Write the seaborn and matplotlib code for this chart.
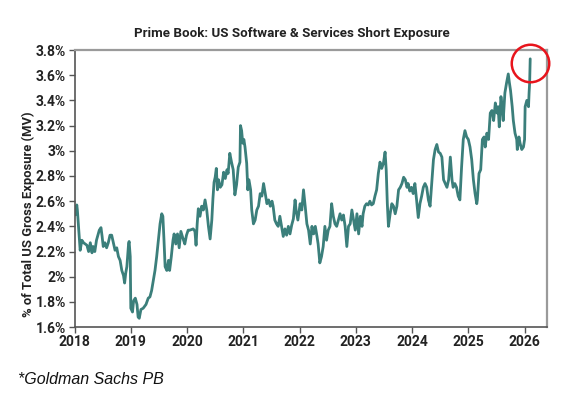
import matplotlib
matplotlib.use("Agg")
import matplotlib.pyplot as plt
import seaborn as sns
import pandas as pd
from matplotlib.ticker import FuncFormatter

# Short exposure (decimal year, % of total US gross exposure)
years_2018_2019 = [
    2018.01, 2018.04, 2018.05, 2018.07, 2018.10, 2018.13, 2018.16, 2018.22, 2018.25, 2018.28,
    2018.31, 2018.33, 2018.36, 2018.39, 2018.44, 2018.47, 2018.49, 2018.51, 2018.54, 2018.57,
    2018.60, 2018.63, 2018.66, 2018.69, 2018.72, 2018.75, 2018.78, 2018.81, 2018.84, 2018.87,
    2018.89, 2018.91, 2018.93, 2018.96, 2018.97, 2018.99, 2019.00, 2019.03, 2019.05, 2019.08,
    2019.11, 2019.13, 2019.15, 2019.18, 2019.22, 2019.27, 2019.31, 2019.34, 2019.37, 2019.40,
    2019.43, 2019.46, 2019.49, 2019.52, 2019.55, 2019.57, 2019.59, 2019.61, 2019.64, 2019.67,
    2019.69, 2019.72, 2019.75, 2019.77, 2019.80, 2019.83, 2019.86, 2019.89, 2019.93, 2019.96,
    2019.99,
]
values_2018_2019 = [
    2.49, 2.57, 2.53, 2.40, 2.21, 2.29, 2.27, 2.25, 2.20, 2.27,
    2.19, 2.24, 2.20, 2.29, 2.37, 2.39, 2.32, 2.24, 2.27, 2.23,
    2.27, 2.33, 2.33, 2.27, 2.21, 2.23, 2.16, 2.13, 2.05, 2.01,
    1.95, 2.03, 2.08, 2.26, 2.28, 2.16, 1.75, 1.72, 1.81, 1.83,
    1.78, 1.68, 1.67, 1.74, 1.75, 1.78, 1.83, 1.84, 1.89, 1.97,
    2.05, 2.16, 2.29, 2.42, 2.50, 2.48, 2.29, 2.08, 2.05, 2.13,
    2.05, 2.16, 2.29, 2.34, 2.26, 2.34, 2.23, 2.36, 2.30, 2.26,
    2.33,
]

years_2020_2021 = [
    2020.02, 2020.05, 2020.11, 2020.14, 2020.16, 2020.18, 2020.20, 2020.23, 2020.26, 2020.29,
    2020.32, 2020.35, 2020.38, 2020.41, 2020.44, 2020.46, 2020.48, 2020.50, 2020.52, 2020.54,
    2020.56, 2020.59, 2020.62, 2020.65, 2020.68, 2020.71, 2020.73, 2020.76, 2020.79, 2020.82,
    2020.85, 2020.88, 2020.91, 2020.94, 2020.95, 2020.97, 2020.99, 2021.01, 2021.03, 2021.06,
    2021.08, 2021.10, 2021.13, 2021.15, 2021.18, 2021.21, 2021.24, 2021.27, 2021.30, 2021.33,
    2021.36, 2021.39, 2021.42, 2021.45, 2021.48, 2021.51, 2021.53, 2021.56, 2021.59, 2021.62,
    2021.65, 2021.68, 2021.71, 2021.74, 2021.77, 2021.80, 2021.83, 2021.86, 2021.89, 2021.92,
    2021.94, 2021.97,
]
values_2020_2021 = [
    2.37, 2.37, 2.38, 2.36, 2.25, 2.42, 2.54, 2.48, 2.56, 2.53,
    2.61, 2.53, 2.40, 2.30, 2.45, 2.62, 2.75, 2.79, 2.86, 2.69,
    2.77, 2.71, 2.73, 2.83, 2.78, 2.85, 2.82, 2.98, 2.91, 2.85,
    2.65, 2.73, 2.87, 2.91, 3.20, 3.16, 3.06, 3.09, 3.03, 2.90,
    2.69, 2.77, 2.69, 2.53, 2.42, 2.45, 2.53, 2.56, 2.66, 2.64,
    2.74, 2.66, 2.58, 2.61, 2.56, 2.60, 2.56, 2.45, 2.42, 2.40,
    2.48, 2.40, 2.32, 2.38, 2.33, 2.40, 2.34, 2.41, 2.46, 2.61,
    2.52, 2.45,
]

years_2022_2023 = [
    2022.01, 2022.04, 2022.07, 2022.10, 2022.13, 2022.16, 2022.19, 2022.22, 2022.25, 2022.28,
    2022.31, 2022.33, 2022.36, 2022.39, 2022.42, 2022.45, 2022.48, 2022.51, 2022.54, 2022.57,
    2022.60, 2022.63, 2022.66, 2022.69, 2022.72, 2022.75, 2022.78, 2022.81, 2022.84, 2022.87,
    2022.90, 2022.93, 2022.96, 2022.99, 2023.02, 2023.05, 2023.08, 2023.11, 2023.13, 2023.16,
    2023.19, 2023.22, 2023.25, 2023.28, 2023.31, 2023.34, 2023.37, 2023.40, 2023.43, 2023.46,
    2023.49, 2023.52, 2023.54, 2023.56, 2023.58, 2023.61, 2023.64, 2023.67, 2023.70, 2023.73,
    2023.76, 2023.79, 2023.82, 2023.85, 2023.88, 2023.91, 2023.93, 2023.96, 2023.99,
]
values_2022_2023 = [
    2.58, 2.53, 2.69, 2.56, 2.42, 2.37, 2.26, 2.40, 2.34, 2.40,
    2.32, 2.26, 2.11, 2.16, 2.24, 2.40, 2.29, 2.37, 2.40, 2.58,
    2.48, 2.42, 2.40, 2.45, 2.50, 2.45, 2.49, 2.40, 2.24, 2.40,
    2.42, 2.53, 2.45, 2.37, 2.50, 2.34, 2.48, 2.40, 2.50, 2.56,
    2.58, 2.57, 2.60, 2.57, 2.58, 2.64, 2.69, 2.82, 2.91, 2.86,
    2.90, 2.99, 2.85, 2.58, 2.40, 2.50, 2.58, 2.56, 2.50, 2.56,
    2.69, 2.71, 2.74, 2.79, 2.77, 2.71, 2.74, 2.68, 2.71,
]

years_2024_2026 = [
    2024.02, 2024.05, 2024.08, 2024.11, 2024.14, 2024.17, 2024.20, 2024.23, 2024.26, 2024.29,
    2024.32, 2024.35, 2024.38, 2024.41, 2024.44, 2024.47, 2024.50, 2024.53, 2024.56, 2024.59,
    2024.62, 2024.65, 2024.68, 2024.71, 2024.73, 2024.76, 2024.79, 2024.82, 2024.85, 2024.88,
    2024.91, 2024.94, 2024.97, 2025.00, 2025.03, 2025.06, 2025.09, 2025.12, 2025.15, 2025.16,
    2025.19, 2025.22, 2025.25, 2025.28, 2025.30, 2025.33, 2025.36, 2025.39, 2025.42, 2025.45,
    2025.48, 2025.51, 2025.53, 2025.55, 2025.58, 2025.60, 2025.62, 2025.65, 2025.68, 2025.71,
    2025.73, 2025.75, 2025.78, 2025.80, 2025.83, 2025.86, 2025.87, 2025.90, 2025.92, 2025.95,
    2025.98, 2026.00, 2026.01, 2026.04, 2026.07, 2026.08, 2026.09, 2026.10,
]
values_2024_2026 = [
    2.66, 2.74, 2.61, 2.47, 2.58, 2.64, 2.71, 2.74, 2.71, 2.61,
    2.56, 2.74, 2.93, 3.01, 3.05, 2.99, 2.98, 2.95, 2.77, 2.74,
    2.71, 2.77, 2.95, 2.77, 2.71, 2.74, 2.71, 2.64, 2.61, 2.87,
    3.09, 3.16, 3.11, 3.09, 3.03, 2.93, 2.77, 2.66, 2.58, 2.61,
    2.82, 2.85, 3.09, 3.11, 3.03, 3.14, 3.09, 3.30, 3.32, 3.24,
    3.38, 3.30, 3.35, 3.19, 3.43, 3.35, 3.24, 3.46, 3.54, 3.61,
    3.54, 3.48, 3.35, 3.24, 3.14, 3.09, 3.01, 3.11, 3.06, 3.01,
    3.03, 3.09, 3.35, 3.40, 3.35, 3.46, 3.54, 3.73,
]

year_ticks = [2018, 2019, 2020, 2021, 2022, 2023, 2024, 2025, 2026]
pct_ticks = [1.6, 1.8, 2.0, 2.2, 2.4, 2.6, 2.8, 3.0, 3.2, 3.4, 3.6, 3.8]

TEAL = "#3b7f7b"
BOLD_FONT = "Roboto"


def main():
    df = pd.DataFrame({
        "year": years_2018_2019 + years_2020_2021 + years_2022_2023 + years_2024_2026,
        "pct": values_2018_2019 + values_2020_2021 + values_2022_2023 + values_2024_2026,
    })

    sns.set_style("ticks")
    fig = plt.figure(figsize=(5.87, 3.97), dpi=100)
    ax = fig.add_axes([0.127, 0.176, 0.805, 0.698])

    sns.lineplot(data=df, x="year", y="pct", estimator=None, color=TEAL,
                 linewidth=2.0, ax=ax)

    # red circle around the latest reading
    last = df.iloc[-1]
    ax.plot([last["year"]], [last["pct"] - 0.03], marker="o", markersize=27,
            markerfacecolor="none", markeredgecolor="#e8141c", markeredgewidth=1.8,
            clip_on=False, zorder=5)

    ax.set_xlim(2018, 2026.4)
    ax.set_ylim(1.6, 3.8)
    ax.set_xticks(year_ticks)
    ax.set_yticks(pct_ticks)
    ax.yaxis.set_major_formatter(FuncFormatter(lambda v, _: f"{v:g}%"))
    ax.set_xlabel("")
    ax.set_ylabel("% of Total US Gross Exposure (MV)", fontsize=9.4, fontweight="bold",
                  family=BOLD_FONT, color="#222222")
    ax.yaxis.set_label_coords(-0.084, 0.408)

    for lab in ax.get_xticklabels() + ax.get_yticklabels():
        lab.set_family(BOLD_FONT)
        lab.set_fontweight("bold")
        lab.set_fontsize(10)
        lab.set_color("#222222")
    ax.tick_params(axis="both", direction="out", length=4, width=1, color="#555555", pad=2)

    for side in ["left", "bottom"]:
        ax.spines[side].set_color("#555555")
        ax.spines[side].set_linewidth(1.2)
    for side in ["top", "right"]:
        ax.spines[side].set_visible(True)
        ax.spines[side].set_color("#9a9a9a")
        ax.spines[side].set_linewidth(1.6)

    fig.text(0.497, 0.915, "Prime Book: US Software & Services Short Exposure",
             ha="center", va="center", fontsize=9.6, fontweight="bold",
             family=BOLD_FONT, color="#222222")
    fig.text(0.03, 0.043, "*Goldman Sachs PB", ha="left", va="center",
             fontsize=11.5, style="italic", family="Liberation Sans", color="#111111")

    fig.savefig("out.png", dpi=100)
    plt.close(fig)


if __name__ == "__main__":
    main()
